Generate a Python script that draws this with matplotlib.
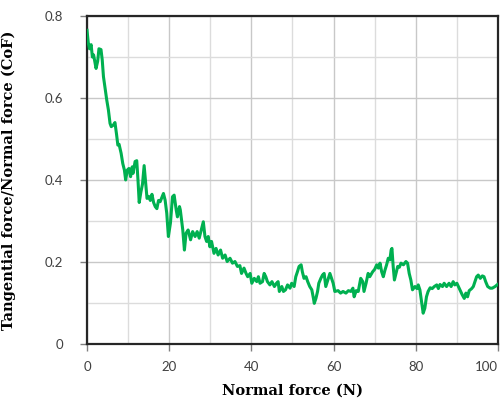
import matplotlib
matplotlib.use("Agg")
import matplotlib.pyplot as plt

# normal force (N) vs coefficient of friction
force = [0.0, 0.3, 0.6, 1.0, 1.3, 1.6, 2.2, 2.6, 2.9, 3.4, 3.7, 4.0, 4.4, 4.8, 5.2,
         5.6, 5.9, 6.4, 6.8, 7.2, 7.5, 7.8, 8.3, 8.7, 9.1, 9.4, 9.8, 10.2, 10.6, 11.0,
         11.2, 11.7, 12.1, 12.4, 12.7, 13.1, 13.5, 13.9, 14.2, 14.6, 15.0, 15.4, 15.8,
         16.2, 16.6, 17.0, 17.4, 17.8, 18.6, 19.0, 19.4, 19.8, 20.3, 20.8, 21.2, 21.7,
         22.0, 22.5, 22.7, 23.3, 23.7, 24.1, 24.6, 25.2, 25.7, 26.3, 26.8, 27.3, 27.9,
         28.3, 28.7, 29.1, 29.5, 29.9, 30.3, 30.9, 31.4, 31.9, 32.5, 33.0, 33.6, 34.1,
         34.8, 35.4, 36.0, 36.6, 37.2, 37.6, 38.2, 38.7, 39.1, 39.7, 40.1, 40.7, 41.3,
         41.7, 42.1, 42.7, 43.1, 43.5, 43.9, 44.5, 45.0, 45.6, 46.1, 46.5, 46.8, 47.4,
         47.8, 48.3, 48.8, 49.4, 49.8, 50.4, 50.8, 51.2, 51.6, 52.1, 52.4, 52.8, 53.3,
         53.7, 54.2, 54.7, 55.1, 55.3, 55.7, 56.1, 56.4, 56.9, 57.3, 57.7, 58.1, 58.6,
         59.1, 59.5, 59.9, 60.3, 61.1, 61.7, 62.3, 63.0, 63.6, 64.2, 64.7, 65.0, 65.5,
         66.0, 66.6, 67.1, 67.4, 67.9, 68.4, 68.8, 69.5, 70.0, 70.5, 70.9, 71.3, 71.7,
         72.1, 72.5, 72.9, 73.3, 73.7, 74.0, 74.2, 74.5, 74.8, 75.2, 75.6, 76.0, 76.4,
         77.0, 77.6, 78.0, 78.4, 78.8, 79.2, 79.8, 80.3, 80.6, 81.0, 81.4, 81.8, 82.2,
         82.6, 83.0, 83.5, 84.0, 84.5, 85.1, 85.5, 85.9, 86.5, 86.9, 87.5, 88.1, 88.6,
         89.1, 89.5, 90.0, 90.5, 90.9, 91.3, 91.8, 92.2, 92.6, 93.0, 93.6, 94.0, 94.4,
         94.8, 95.2, 95.7, 96.2, 96.6, 97.0, 97.5, 98.1, 98.6, 99.3, 99.9]
cof = [0.765, 0.735, 0.72, 0.73, 0.70, 0.705, 0.672, 0.69, 0.72, 0.718, 0.693, 0.652,
       0.624, 0.595, 0.571, 0.538, 0.53, 0.534, 0.54, 0.51, 0.485, 0.487, 0.465, 0.44,
       0.424, 0.40, 0.424, 0.428, 0.408, 0.432, 0.416, 0.445, 0.447, 0.40, 0.345, 0.37,
       0.39, 0.435, 0.40, 0.355, 0.36, 0.35, 0.365, 0.345, 0.335, 0.33, 0.35, 0.347,
       0.367, 0.351, 0.319, 0.262, 0.295, 0.359, 0.363, 0.327, 0.31, 0.335, 0.327,
       0.278, 0.229, 0.27, 0.278, 0.254, 0.274, 0.262, 0.274, 0.258, 0.282, 0.298,
       0.262, 0.25, 0.262, 0.237, 0.25, 0.221, 0.233, 0.217, 0.229, 0.209, 0.217,
       0.201, 0.209, 0.197, 0.201, 0.189, 0.191, 0.172, 0.185, 0.172, 0.164, 0.172,
       0.148, 0.16, 0.152, 0.164, 0.148, 0.152, 0.172, 0.164, 0.152, 0.144, 0.152,
       0.14, 0.148, 0.152, 0.128, 0.14, 0.128, 0.132, 0.144, 0.136, 0.148, 0.14,
       0.164, 0.176, 0.189, 0.193, 0.176, 0.16, 0.164, 0.152, 0.14, 0.132, 0.111,
       0.099, 0.111, 0.128, 0.148, 0.16, 0.168, 0.172, 0.14, 0.156, 0.172, 0.16,
       0.148, 0.128, 0.13, 0.124, 0.128, 0.124, 0.13, 0.128, 0.136, 0.115, 0.13,
       0.128, 0.16, 0.152, 0.128, 0.148, 0.172, 0.164, 0.176, 0.182, 0.193, 0.185,
       0.197, 0.176, 0.164, 0.18, 0.193, 0.209, 0.205, 0.229, 0.233, 0.189, 0.156,
       0.172, 0.189, 0.187, 0.197, 0.193, 0.201, 0.197, 0.172, 0.156, 0.132, 0.14,
       0.135, 0.144, 0.132, 0.103, 0.075, 0.087, 0.115, 0.128, 0.137, 0.135, 0.14,
       0.144, 0.135, 0.145, 0.14, 0.148, 0.14, 0.148, 0.14, 0.152, 0.144, 0.148,
       0.137, 0.128, 0.12, 0.111, 0.124, 0.115, 0.13, 0.135, 0.14, 0.152, 0.164,
       0.168, 0.16, 0.166, 0.164, 0.152, 0.14, 0.136, 0.136, 0.14, 0.145]

x_ticks = [0, 20, 40, 60, 80, 100]
y_ticks = [0, 0.2, 0.4, 0.6, 0.8]
y_tick_labels = ["0", "0.2", "0.4", "0.6", "0.8"]

fig = plt.figure(figsize=(5.03, 3.99), dpi=100)
ax = fig.add_axes([0.173, 0.138, 0.817, 0.822])

ax.plot(force, cof, color="#00b050", lw=2.2, zorder=3)

ax.set_xlim(0, 100)
ax.set_ylim(0, 0.8)
ax.set_xticks(x_ticks)
ax.set_yticks(y_ticks)
ax.set_yticklabels(y_tick_labels)
ax.set_xticks(range(10, 100, 20), minor=True)
ax.set_yticks([0.1, 0.3, 0.5, 0.7], minor=True)
ax.grid(True, which="major", color="#c8c8c8", lw=1.0)
ax.grid(True, which="minor", color="#dcdcdc", lw=1.0)
ax.set_axisbelow(True)

ax.tick_params(which="major", direction="out", length=5, width=1, color="#808080",
               labelsize=9.5, labelcolor="#404040")
ax.tick_params(which="minor", length=0)
ax.tick_params(axis="y", pad=12)
ax.tick_params(axis="x", pad=7)
for lab in ax.get_xticklabels() + ax.get_yticklabels():
    lab.set_family("Lato")
# last x label pulled inside the figure, like the original
ax.get_xticklabels()[-1].set_horizontalalignment("right")

for s in ax.spines.values():
    s.set_color("#262626")
    s.set_linewidth(1.6)

ax.set_xlabel("Normal force (N)", family="DejaVu Serif", fontweight="bold", fontsize=10.5,
              labelpad=8)
ax.set_ylabel("Tangential force/Normal force (CoF)", family="DejaVu Serif",
              fontweight="bold", fontsize=10.5, labelpad=8)
ax.yaxis.set_label_coords(-0.172, 0.5)

fig.savefig("out.png", dpi=100)
